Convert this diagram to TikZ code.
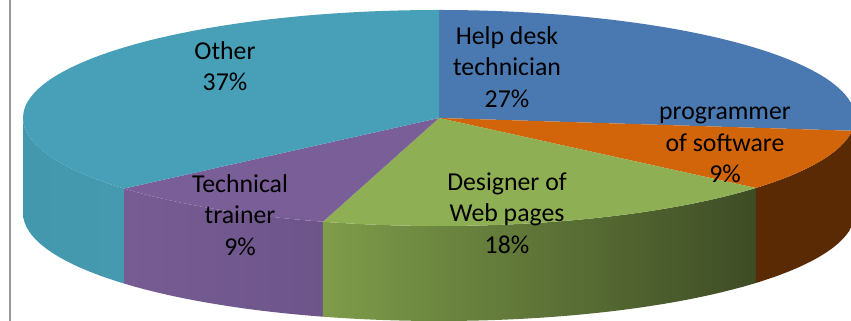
\documentclass[tikz,border=0pt]{standalone}
\usepackage{fontspec}
\setmainfont{Carlito}
\definecolor{helpblue}{HTML}{4A78B0}
\definecolor{progorange}{HTML}{D2650A}
\definecolor{progside}{HTML}{5A2A04}
\definecolor{webgreen}{HTML}{8FAF55}
\definecolor{websideL}{HTML}{7E9C4A}
\definecolor{websideR}{HTML}{3E4C25}
\definecolor{trainpurple}{HTML}{7A5E98}
\definecolor{trainsideL}{HTML}{765C93}
\definecolor{trainsideR}{HTML}{685084}
\definecolor{otherteal}{HTML}{47A0B7}
\definecolor{othersideL}{HTML}{4498AE}
\definecolor{othersideR}{HTML}{47A0B5}
\begin{document}
\begin{tikzpicture}[x=0.03cm, y=0.03cm,
	lbl/.style={align=center, text=black, font=\fontsize{22}{27}\selectfont}]
	\useasboundingbox (0,0) rectangle (851,321);
	\coordinate (c) at (439,203);

	\draw[black!40, line width=1.3pt] (10,0) -- (10,321);

	\foreach \a/\b/\lc/\rc in {180/220.8/othersideL/othersideR, 220.8/253.8/trainsideL/trainsideR, 253.8/319.6/websideL/websideR, 319.6/353.2/progside/progside}
		\shade[left color=\lc, right color=\rc] (c) ++(\a:416 and 108) arc[start angle=\a, end angle=\b, x radius=416, y radius=108] -- ++(0,-95) arc[start angle=\b, end angle=\a, x radius=416, y radius=108] -- cycle;

	\foreach \a/\b/\col in {-6.8/90/helpblue, -40.4/-6.8/progorange, -106.2/-40.4/webgreen, -139.2/-106.2/trainpurple, 90/220.8/otherteal}
		\fill[\col] (c) -- ++(\a:416 and 108) arc[start angle=\a, end angle=\b, x radius=416, y radius=108] -- cycle;

	\node[lbl] (other) at (225,255) {Other\\37\%};
	\node[lbl] (helpdesk) at (507,254) {Help desk\\technician\\27\%};
	\node[lbl] (programmer) at (725,176) {programmer\\of software\\9\%};
	\node[lbl] (designer) at (507,108) {Designer of\\Web pages\\18\%};
	\node[lbl] (trainer) at (240,106) {Technical\\trainer\\9\%};
\end{tikzpicture}
\end{document}
